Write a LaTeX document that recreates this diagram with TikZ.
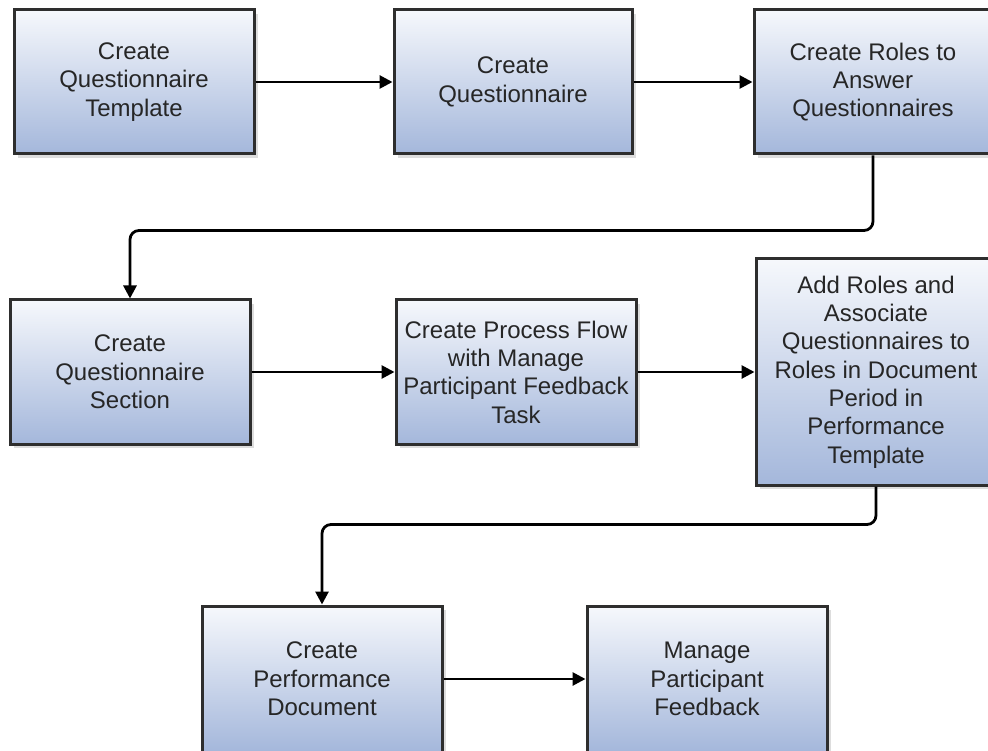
\documentclass[tikz,border=0pt]{standalone}
\usepackage{fontspec}
\setmainfont{Liberation Sans}
\usetikzlibrary{arrows.meta,shadows}
\definecolor{boxtop}{HTML}{F6F8FC}
\definecolor{boxbot}{HTML}{A4B7DB}
\definecolor{boxline}{HTML}{2E2E2E}
\definecolor{boxtext}{HTML}{262626}
\begin{document}
\begin{tikzpicture}[x=1pt,y=-1pt,
    -{Triangle[length=13pt,width=13pt]},line width=2.8pt,
    task/.style={draw=boxline,line width=3pt,top color=boxtop,bottom color=boxbot,
        minimum width=240pt,minimum height=144pt,inner sep=0pt,align=center,
        text=boxtext,font=\fontsize{24}{28.3}\selectfont,
        drop shadow={shadow xshift=4pt,shadow yshift=-4pt,fill=black!22,opacity=0.6}}]
    \clip (0,0) rectangle (988,751);
    \fill[white] (0,0) rectangle (988,751);

    \node[task] (tpl)  at (134,82)  {Create\\Questionnaire\\Template};
    \node[task, minimum width=238pt] (qst)  at (513,82)  {Create\\Questionnaire};
    \node[task, minimum width=238pt] (rol)  at (873,82)  {Create Roles to\\Answer\\Questionnaires};

    \node[task] (sec)  at (130,372) {Create\\Questionnaire\\Section};
    \node[task] (flow) at (516,372) {Create Process Flow\\with Manage\\Participant Feedback\\Task};
    \node[task, minimum height=226pt] (add)  at (876,372) {Add Roles and\\Associate\\Questionnaires to\\Roles in Document\\Period in\\Performance\\Template};

    \node[task, minimum height=146pt] (doc)  at (322,679) {Create\\Performance\\Document};
    \node[task, minimum height=146pt] (fb)   at (707,679) {Manage\\Participant\\Feedback};

    \draw (tpl) -- (qst);
    \draw (qst) -- (rol);
    \draw[rounded corners=9pt] (rol.south) -- ++(0,75) -| (sec.north);
    \draw (sec) -- (flow);
    \draw (flow) -- (add);
    \draw[rounded corners=9pt] (add.south) -- ++(0,38) -| (doc.north);
    \draw (doc) -- (fb);
\end{tikzpicture}
\end{document}
